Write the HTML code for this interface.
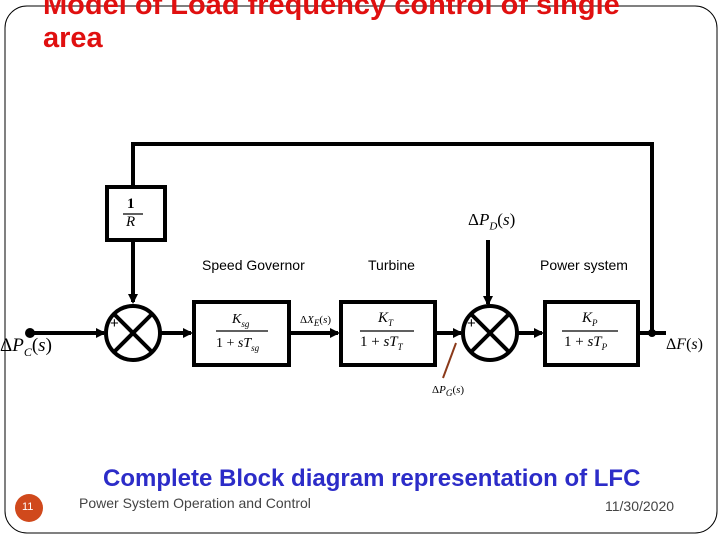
<!DOCTYPE html>
<html><head><meta charset="utf-8"><style>
body{margin:0;width:720px;height:540px;background:#fff;overflow:hidden;position:relative;font-family:"Liberation Sans",sans-serif}
.t{position:absolute;white-space:nowrap}
</style></head><body>
<svg width="720" height="540" style="position:absolute;left:0;top:0">
<defs><marker id="a" markerWidth="10" markerHeight="10" refX="8" refY="5" orient="auto" markerUnits="userSpaceOnUse"><path d="M0,0 L10,5 L0,10 z" fill="#000"/></marker></defs>
<rect x="5" y="6" width="712" height="527" rx="22" fill="none" stroke="#000" stroke-width="1"/>
<g stroke="#000" stroke-width="4" fill="none">
<polyline points="133,186 133,144 652,144 652,333"/>
<rect x="107" y="187" width="58" height="53"/>
<line x1="133" y1="240" x2="133" y2="302" marker-end="url(#a)"/>
<circle cx="133" cy="333" r="27"/>
<line x1="114" y1="314" x2="152" y2="352"/><line x1="152" y1="314" x2="114" y2="352"/>
<line x1="30" y1="333" x2="104" y2="333" marker-end="url(#a)"/>
<line x1="160" y1="333" x2="191" y2="333" marker-end="url(#a)"/>
<rect x="194" y="302" width="95" height="63"/>
<line x1="289" y1="333" x2="338" y2="333" marker-end="url(#a)"/>
<rect x="341" y="302" width="94" height="63"/>
<line x1="435" y1="333" x2="461" y2="333" marker-end="url(#a)"/>
<circle cx="490" cy="333" r="27"/>
<line x1="471" y1="314" x2="509" y2="352"/><line x1="509" y1="314" x2="471" y2="352"/>
<line x1="488" y1="240" x2="488" y2="304" marker-end="url(#a)"/>
<line x1="517" y1="333" x2="542" y2="333" marker-end="url(#a)"/>
<rect x="545" y="302" width="93" height="63"/>
<line x1="638" y1="333" x2="666" y2="333"/>
</g>
<circle cx="30" cy="333" r="5" fill="#000"/>
<circle cx="652" cy="333" r="4" fill="#000"/>
<line x1="443" y1="378" x2="456" y2="343" stroke="#8b3a1a" stroke-width="2"/>
<g stroke="#000" stroke-width="1.2"><line x1="123" y1="214" x2="143" y2="214"/><line x1="216" y1="331" x2="268" y2="331"/><line x1="360" y1="331" x2="414" y2="331"/><line x1="562" y1="331" x2="618" y2="331"/></g>
<circle cx="29" cy="508" r="14" fill="#d0491c"/>
</svg>
<div class="t" style="left:43px;top:-11px;font-size:29px;font-weight:bold;color:#e01010;line-height:33px">Model of Load frequency control of single<br>area</div>
<div class="t" style="left:127px;top:196px;font:bold 15px 'Liberation Serif',serif">1</div>
<div class="t" style="left:126px;top:214px;font:italic 15px 'Liberation Serif',serif">R</div>
<div class="t" style="left:202px;top:257px;font-size:14px">Speed Governor</div>
<div class="t" style="left:368px;top:257px;font-size:14px">Turbine</div>
<div class="t" style="left:540px;top:257px;font-size:14px">Power system</div>
<div class="t" style="left:468px;top:210px;font:17px 'Liberation Serif',serif">Δ<i>P<sub style="font-size:11px">D</sub></i>(<i>s</i>)</div>
<div class="t" style="left:0px;top:335px;font:19px 'Liberation Serif',serif">Δ<i>P<sub style="font-size:12px">C</sub></i>(<i>s</i>)</div>
<div class="t" style="left:666px;top:336px;font:16px 'Liberation Serif',serif">Δ<i>F</i>(<i>s</i>)</div>
<div class="t" style="left:300px;top:314px;font:11px 'Liberation Serif',serif">Δ<i>X<sub>E</sub></i>(<i>s</i>)</div>
<div class="t" style="left:432px;top:384px;font:11px 'Liberation Serif',serif">Δ<i>P<sub>G</sub></i>(<i>s</i>)</div>
<div class="t" style="left:110px;top:315px;font-size:15px">+</div>
<div class="t" style="left:126px;top:298px;font-size:15px">−</div>
<div class="t" style="left:467px;top:315px;font-size:15px">+</div>
<div class="t" style="left:485px;top:298px;font-size:15px">−</div>
<div class="t" style="left:232px;top:312px;font:italic 14px 'Liberation Serif',serif">K<sub style="font-size:9px">sg</sub></div>
<div class="t" style="left:216px;top:336px;font:14px 'Liberation Serif',serif">1 + <i>sT<sub style="font-size:9px">sg</sub></i></div>
<div class="t" style="left:378px;top:310px;font:italic 15px 'Liberation Serif',serif">K<sub style="font-size:9px">T</sub></div>
<div class="t" style="left:360px;top:334px;font:15px 'Liberation Serif',serif">1 + <i>sT<sub style="font-size:9px">T</sub></i></div>
<div class="t" style="left:582px;top:310px;font:italic 15px 'Liberation Serif',serif">K<sub style="font-size:9px">P</sub></div>
<div class="t" style="left:564px;top:334px;font:15px 'Liberation Serif',serif">1 + <i>sT<sub style="font-size:9px">P</sub></i></div>
<div class="t" style="left:103px;top:465px;font-size:24px;font-weight:bold;color:#2c2cc8">Complete Block diagram representation of LFC</div>
<div class="t" style="left:22px;top:501px;font-size:11px;color:#fff">11</div>
<div class="t" style="left:79px;top:495px;font-size:14px;color:#444">Power System Operation and Control</div>
<div class="t" style="left:605px;top:498px;font-size:14px;color:#444">11/30/2020</div>
</body></html>
